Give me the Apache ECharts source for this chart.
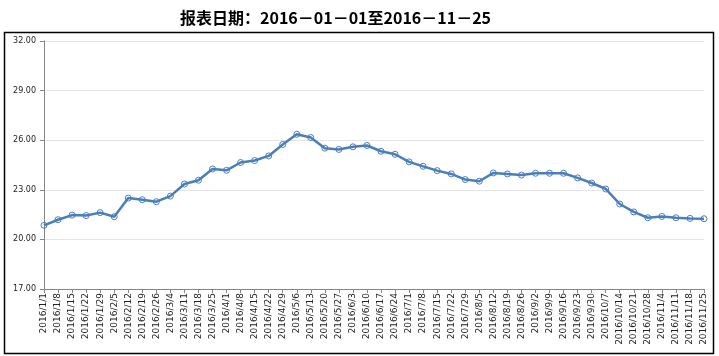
<!DOCTYPE html>
<html>
<head>
<meta charset="utf-8">
<script src="https://cdn.jsdelivr.net/npm/echarts@6/dist/echarts.min.js"></script>
<style>html,body{margin:0;padding:0;background:#fff;}#c{width:719px;height:356px;}</style>
</head>
<body>
<div id="c"></div>
<script>
var titleText = '报表日期：2016－01－01至2016－11－25';
var categories = ['2016/1/1','2016/1/8','2016/1/15','2016/1/22','2016/1/29','2016/2/5','2016/2/12','2016/2/19','2016/2/26','2016/3/4','2016/3/11','2016/3/18','2016/3/25','2016/4/1','2016/4/8','2016/4/15','2016/4/22','2016/4/29','2016/5/6','2016/5/13','2016/5/20','2016/5/27','2016/6/3','2016/6/10','2016/6/17','2016/6/24','2016/7/1','2016/7/8','2016/7/15','2016/7/22','2016/7/29','2016/8/5','2016/8/12','2016/8/19','2016/8/26','2016/9/2','2016/9/9','2016/9/16','2016/9/23','2016/9/30','2016/10/7','2016/10/14','2016/10/21','2016/10/28','2016/11/4','2016/11/11','2016/11/18','2016/11/25'];
var values = [20.85,21.19,21.47,21.44,21.62,21.37,22.50,22.40,22.28,22.62,23.35,23.58,24.26,24.18,24.65,24.77,25.05,25.74,26.36,26.16,25.52,25.44,25.60,25.68,25.33,25.15,24.69,24.42,24.16,23.96,23.62,23.52,24.02,23.96,23.89,24.00,24.00,24.00,23.72,23.41,23.05,22.14,21.66,21.31,21.39,21.31,21.27,21.25];
var yMin = 17, yMax = 32, yStep = 3;

var chart = echarts.init(document.getElementById('c'), null, {renderer:'canvas'});
chart.setOption({
  animation: false,
  backgroundColor: '#fff',
  title: {
    text: titleText,
    left: 175, top: 5,
    textStyle: {fontFamily: 'Noto Sans CJK SC', fontWeight: 'bold', fontSize: 16, color: '#000'}
  },
  graphic: [{
    type: 'rect',
    shape: {x: 4.5, y: 32.5, width: 709, height: 321},
    style: {fill: 'none', stroke: '#000', lineWidth: 1.5},
    silent: true
  }],
  grid: {left: 44, right: 15, top: 41, bottom: 67, containLabel: false},
  xAxis: {
    type: 'category',
    data: categories,
    boundaryGap: false,
    axisLine: {lineStyle: {color: '#868686', width: 1}},
    axisTick: {show: true, interval: 0, length: 4, lineStyle: {color: '#868686'}},
    axisLabel: {interval: 0, rotate: 90, margin: 4, fontFamily: 'DejaVu Sans', fontSize: 9, color: '#222'},
    splitLine: {show: false}
  },
  yAxis: {
    type: 'value',
    min: yMin, max: yMax, interval: yStep,
    axisLine: {show: true, lineStyle: {color: '#868686', width: 1}},
    axisTick: {show: true, length: 4, lineStyle: {color: '#868686'}},
    axisLabel: {margin: 8, fontFamily: 'DejaVu Sans', fontSize: 8, color: '#222',
      formatter: function (v) { return v.toFixed(2); }},
    splitLine: {lineStyle: {color: '#e4e4e4', width: 1}}
  },
  series: [{
    type: 'line',
    data: values,
    symbol: 'circle',
    symbolSize: 6,
    showAllSymbol: true,
    lineStyle: {color: '#4a7ebb', width: 2.5},
    itemStyle: {color: 'rgba(255,255,255,0)', borderColor: '#4a7ebb', borderWidth: 1}
  }]
});
</script>
</body>
</html>
